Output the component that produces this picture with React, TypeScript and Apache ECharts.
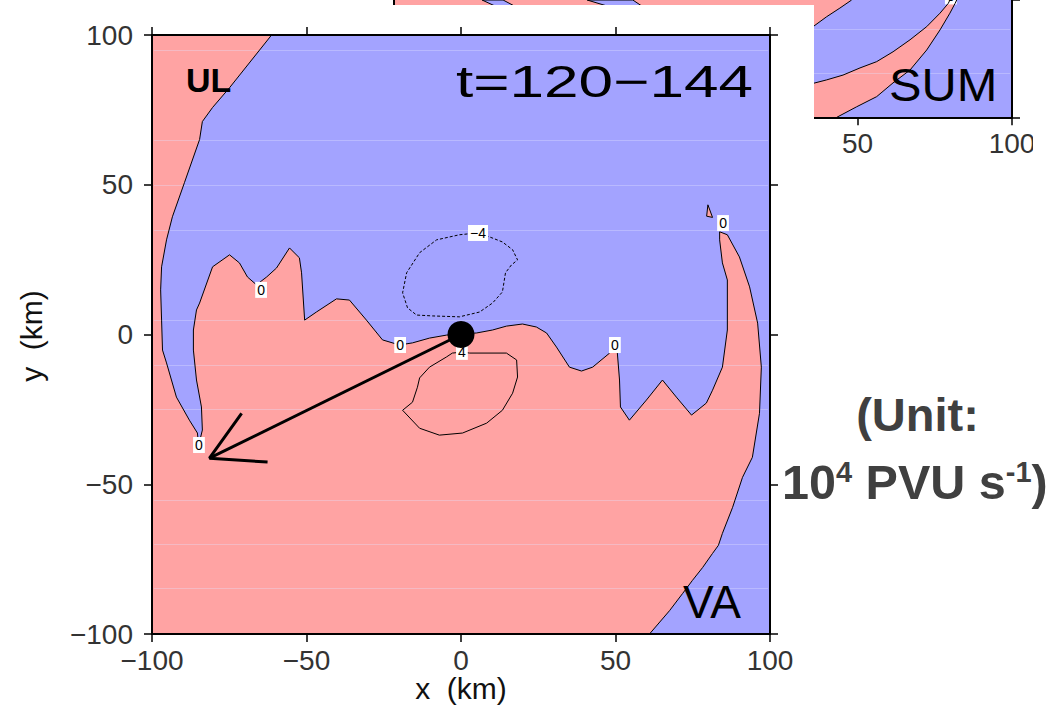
import { useEffect, useRef } from "react";
import * as echarts from "echarts";

const PINK = "#FFA3A3";
const BLUE = "#A3A3FF";
const FONT = "'Liberation Sans', Arial, Helvetica, sans-serif";

// axis range (km)
const axisMin = -100;
const axisMax = 100;
const axisStep = 50;
// the inset panel above: only its lowest part (y from -100 km upward) is visible
const insetYMax = -60.8;

// zero contour of the main panel, from the top edge to the bottom edge (x km, y km)
const zeroContour: number[][] = [
  [-61.3, 100], [-74.9, 82.4], [-80.4, 75.8], [-83.7, 71.1], [-84.6, 65.1], [-89.5, 50.7],
  [-93.4, 39.3], [-95.3, 31.6], [-96.9, 22.6], [-97.2, 14.9], [-96.9, 4.8], [-96.6, -5.2],
  [-95.3, -9.5], [-92.1, -20.9], [-87.9, -28.6], [-85.3, -32.9], [-84.9, -37.0],
  [-83.7, -31.9], [-84.0, -24.2], [-85.6, -15.2], [-86.6, -5.2], [-86.6, 1.5], [-85.6, 8.2],
  [-84.6, 10.5], [-80.4, 22.6], [-74.9, 26.6], [-71.7, 23.9], [-69.1, 19.2], [-66.2, 16.6],
  [-62.9, 19.2], [-59.7, 22.2], [-55.5, 28.9], [-52.3, 25.6], [-51.6, 20.6], [-50.6, 4.8],
  [-46.8, 7.5], [-40.3, 11.9], [-36.1, 11.5], [-30.6, 4.8], [-25.4, -1.8], [-19.9, -3.5],
  [-15.7, -2.8], [-10.2, -1.2], [-4.7, -0.2], [0, 0.2], [5.0, 0.5], [10.2, 1.5], [14.7, 2.8],
  [19.9, 3.5], [24.4, 2.5], [27.7, 0.5], [30.9, -4.2], [35.1, -10.9], [39.0, -12.2],
  [42.6, -10.9], [48.1, -6.2], [49.7, -3.5], [50.6, -6.2], [51.3, -15.2], [51.6, -24.2],
  [54.5, -28.6], [60.0, -21.9], [65.2, -15.2], [69.7, -20.9], [74.6, -26.9], [79.4, -22.9],
  [81.4, -18.6], [84.6, -10.9], [86.2, 1.5], [86.2, 18.2], [84.6, 23.9], [83.7, 31.6],
  [83.7, 34.3], [86.2, 33.3], [90.1, 25.9], [93.4, 15.9], [96.0, 3.8], [97.2, -10.9],
  [96.6, -26.3], [94.3, -41.0], [91.1, -47.7], [87.9, -57.7], [84.6, -66.4], [83.3, -70.4],
  [81.4, -73.1], [78.2, -77.8], [74.9, -82.1], [71.7, -86.5], [67.5, -92.2], [61.0, -100],
];
const pinkCorners: number[][] = [[-100, -100], [-100, 100]];
const pinkIsland: number[][] = [[79.9, 43.3], [79.5, 39.5], [81.4, 39.1]];

// -4 contour (dashed) and +4 contour (solid), closed loops
const minus4Contour: number[][] = [
  [5.3, 33.9], [-0.5, 33.3], [-7.9, 31.6], [-13.4, 27.3], [-17.6, 20.6], [-18.9, 13.9],
  [-17.3, 8.9], [-14.4, 6.5], [-9.2, 6.2], [-0.5, 5.9], [6.0, 7.5], [10.2, 10.5], [13.4, 14.2],
  [14.4, 20.6], [16.3, 23.2], [18.3, 24.9], [16.7, 28.3], [13.4, 30.9], [9.2, 32.6], [5.3, 33.9],
];
const plus4Contour: number[][] = [
  [0.2, -5.9], [2.8, -6.2], [14.7, -6.2], [18.0, -8.5], [18.3, -14.2], [16.7, -19.6],
  [13.4, -25.3], [8.3, -29.6], [0.5, -32.9], [-7.0, -33.6], [-13.4, -31.3], [-18.9, -25.3],
  [-15.7, -22.6], [-14.1, -17.6], [-13.4, -14.5], [-10.2, -10.9], [-4.7, -7.5], [-2.8, -6.2],
  [0.2, -5.9],
];

// contour labels
const contourLabelText = ["0", "0", "0", "0", "0", "\u22124", "4"];
const contourLabelX = [-64.7, -19.7, 49.8, 84.8, -84.8, 5.5, 0.3];
const contourLabelY = [14.9, -3.5, -3.5, 37.2, -36.9, 33.9, -5.8];

// storm centre and motion arrow
const centre: number[][] = [[0, 0]];
const arrowShaft: number[][] = [[0, 0], [-81.4, -41.3]];
const arrowHead: number[][] = [[-71.0, -26.3], [-81.4, -41.3], [-62.6, -42.6]];

// inset (SUM) panel
const insetEdgeA: number[][] = [[10, -80], [25, -75], [35.9, -69.5], [40.0, -66.4], [44.3, -63.5], [48.1, -60.8]];
const insetBandUpper: number[][] = [
  [25, -91], [35.9, -88.6], [40.0, -87.5], [45.3, -85.9], [50.8, -83.5], [56.2, -81.4],
  [61.5, -78.1], [67.0, -74.1], [72.4, -69.7], [76.7, -65.2], [79.4, -61.9], [79.9, -60.8],
];
const insetBandLower: number[][] = [
  [82.1, -60.8], [81.6, -61.9], [79.9, -65.2], [76.7, -70.8], [72.4, -77.5], [67.0, -84.2],
  [61.5, -88.5], [56.2, -93.1], [49.7, -96.5], [43.3, -100],
];
const insetBlob1: number[][] = [[-71.5, -60.8], [-64.7, -60.8], [-60.5, -63.1], [-66.7, -63.1]];
const insetBlob2: number[][] = [[-37.5, -60.8], [-22.7, -60.8], [-19.4, -63.1], [-30.1, -63.1], [-34.3, -61.8]];
const insetLabelText = ["0"];
const insetLabelX = [80.2];
const insetLabelY = [-59.6];

// faint scan rows of the original picture (pixels from each panel's top)
const mainRows = [15, 105, 150, 195, 285, 330, 374, 465, 509, 553];
const insetRows = [29, 73];

const fmt = (v: number) => (v < 0 ? "\u2212" + Math.abs(v) : String(v));

function polygonSeries(xIdx: number, yIdx: number, z: number, layers: any[], rows: number[]) {
  return {
    type: "custom",
    xAxisIndex: xIdx,
    yAxisIndex: yIdx,
    z,
    silent: true,
    data: [[0, 0]],
    renderItem: (params: any, api: any) => {
      const cs = params.coordSys;
      const children: any[] = [
        { type: "rect", shape: { x: cs.x, y: cs.y, width: cs.width, height: cs.height }, style: { fill: BLUE } },
      ];
      layers.forEach((l) => {
        children.push({
          type: "polygon",
          shape: { points: l.pts.map((p: number[]) => api.coord(p)) },
          style: { fill: l.fill, stroke: l.stroke || null, lineWidth: 1 },
        });
      });
      rows.forEach((r) => {
        children.push({
          type: "line",
          shape: { x1: cs.x + 2, y1: cs.y + r + 0.5, x2: cs.x + cs.width - 2, y2: cs.y + r + 0.5 },
          style: { stroke: "rgba(225,225,255,0.35)", lineWidth: 1 },
        });
      });
      return { type: "group", children };
    },
  };
}

function lineSeries(data: number[][], xIdx: number, yIdx: number, z: number, width = 1, type: any = "solid") {
  return {
    type: "line",
    data,
    xAxisIndex: xIdx,
    yAxisIndex: yIdx,
    z,
    symbol: "none",
    silent: true,
    lineStyle: { color: "#000", width, type },
  };
}

function labelSeries(xs: number[], ys: number[], texts: string[], xIdx: number, yIdx: number, z: number) {
  return {
    type: "custom",
    xAxisIndex: xIdx,
    yAxisIndex: yIdx,
    z,
    silent: true,
    data: xs.map((x, i) => [x, ys[i]]),
    renderItem: (params: any, api: any) => {
      const p = api.coord([api.value(0), api.value(1)]);
      return {
        type: "text",
        x: p[0],
        y: p[1],
        style: {
          text: texts[params.dataIndex],
          fill: "#000",
          fontSize: 14,
          fontFamily: FONT,
          align: "center",
          verticalAlign: "middle",
          backgroundColor: "#fff",
          padding: [1, 2],
        },
      };
    },
  };
}

const axisBase = (gridIndex: number, position: string, z: number, label: any) => ({
  type: "value",
  gridIndex,
  position,
  min: axisMin,
  max: axisMax,
  interval: axisStep,
  z,
  axisLine: { show: true, onZero: false, lineStyle: { color: "#000", width: 2 } },
  axisTick: { show: true, inside: false, length: 8, lineStyle: { color: "#000", width: 1.5 } },
  splitLine: { show: false },
  axisLabel: label,
});

const tickLabel = (margin: number, formatter: (v: number) => string) => ({
  show: true,
  color: "#333",
  fontSize: 28,
  fontFamily: FONT,
  margin,
  formatter,
});

export default function App() {
  const ref = useRef<HTMLDivElement>(null);
  useEffect(() => {
    if (!ref.current) return;
    const chart = echarts.init(ref.current, undefined, { renderer: "svg" });
    const option: any = {
      animation: false,
      backgroundColor: "#fff",
      grid: [
        { left: 152, top: 35, width: 618, height: 599, show: false },
        { left: 394, top: 0, width: 618, height: 117.3, show: false },
      ],
      xAxis: [
        axisBase(0, "bottom", 10, tickLabel(12, fmt)),
        axisBase(0, "top", 10, { show: false }),
        axisBase(1, "bottom", 2, tickLabel(12, (v: number) => (v >= 50 ? fmt(v) : ""))),
      ],
      yAxis: [
        axisBase(0, "left", 10, tickLabel(19, fmt)),
        axisBase(0, "right", 10, { show: false }),
        { ...axisBase(1, "left", 2, { show: false }), max: insetYMax, axisTick: { show: false } },
        { ...axisBase(1, "right", 2, { show: false }), max: insetYMax },
      ],
      series: [
        // inset panel
        polygonSeries(2, 2, 1, [
          { pts: [[-100, insetYMax], ...insetEdgeA.slice().reverse(), [-100, -80]], fill: PINK },
          { pts: [...insetBandUpper, ...insetBandLower, [25, -100]], fill: PINK },
          { pts: insetBlob1, fill: BLUE, stroke: "#000" },
          { pts: insetBlob2, fill: BLUE, stroke: "#000" },
        ], insetRows),
        lineSeries(insetEdgeA, 2, 2, 1),
        lineSeries(insetBandUpper, 2, 2, 1),
        lineSeries(insetBandLower, 2, 2, 1),
        labelSeries(insetLabelX, insetLabelY, insetLabelText, 2, 2, 1),
        // main panel
        polygonSeries(0, 0, 4, [
          { pts: [...zeroContour, ...pinkCorners], fill: PINK },
          { pts: pinkIsland, fill: PINK, stroke: "#000" },
        ], mainRows),
        lineSeries(zeroContour, 0, 0, 5),
        lineSeries(minus4Contour, 0, 0, 5, 1, [3, 2]),
        lineSeries(plus4Contour, 0, 0, 5),
        labelSeries(contourLabelX, contourLabelY, contourLabelText, 0, 0, 6),
        lineSeries(arrowShaft, 0, 0, 7, 3),
        lineSeries(arrowHead, 0, 0, 7, 3),
        {
          type: "scatter",
          data: centre,
          xAxisIndex: 0,
          yAxisIndex: 0,
          z: 8,
          silent: true,
          symbol: "circle",
          symbolSize: 27,
          itemStyle: { color: "#000", opacity: 1 },
        },
      ],
      graphic: {
        elements: [
          { type: "rect", z: 3, silent: true, shape: { x: 393, y: 5, width: 421, height: 160 }, style: { fill: "#fff" } },
          { type: "rect", z: 3, silent: true, shape: { x: 1033, y: 120, width: 19, height: 45 }, style: { fill: "#fff" } },
          {
            type: "text", z: 12, x: 186, y: 80,
            style: { text: "UL", fill: "#000", fontSize: 34, fontWeight: "bold", fontFamily: FONT, align: "left", verticalAlign: "middle" },
          },
          {
            type: "text", z: 12, x: 753, y: 81, scaleX: 1.38,
            style: { text: "t=120\u2212144", fill: "#000", fontSize: 45, fontFamily: FONT, align: "right", verticalAlign: "middle" },
          },
          {
            type: "text", z: 12, x: 683, y: 602,
            style: { text: "VA", fill: "#000", fontSize: 46, fontFamily: FONT, align: "left", verticalAlign: "middle" },
          },
          {
            type: "text", z: 12, x: 889, y: 85, scaleX: 1.06,
            style: { text: "SUM", fill: "#000", fontSize: 46, fontFamily: FONT, align: "left", verticalAlign: "middle" },
          },
          {
            type: "text", z: 12, x: 917.5, y: 414,
            style: { text: "(Unit:", fill: "#404040", fontSize: 47, fontWeight: "bold", fontFamily: FONT, align: "center", verticalAlign: "middle" },
          },
          {
            type: "text", z: 12, x: 782, y: 482,
            style: {
              text: "{a|10}{s|4}{a| PVU s}{s|-1}{a|)}",
              fill: "#404040",
              fontFamily: FONT,
              align: "left",
              verticalAlign: "middle",
              rich: {
                a: { fontSize: 48.5, fontWeight: "bold", fontFamily: FONT, fill: "#404040", lineHeight: 50 },
                s: { fontSize: 29, fontWeight: "bold", fontFamily: FONT, fill: "#404040", lineHeight: 30, verticalAlign: "top" },
              },
            },
          },
          {
            type: "text", z: 12, x: 461, y: 688,
            style: { text: "x\u00a0\u00a0(km)", fill: "#111", fontSize: 30, fontFamily: FONT, align: "center", verticalAlign: "middle" },
          },
          {
            type: "text", z: 12, x: 31, y: 336, rotation: Math.PI / 2,
            style: { text: "y\u00a0\u00a0(km)", fill: "#111", fontSize: 30, fontFamily: FONT, align: "center", verticalAlign: "middle" },
          },
        ],
      },
    };
    chart.setOption(option);
    return () => chart.dispose();
  }, []);
  return <div ref={ref} style={{ position: "absolute", left: 0, top: 0, width: 1052, height: 705 }} />;
}
